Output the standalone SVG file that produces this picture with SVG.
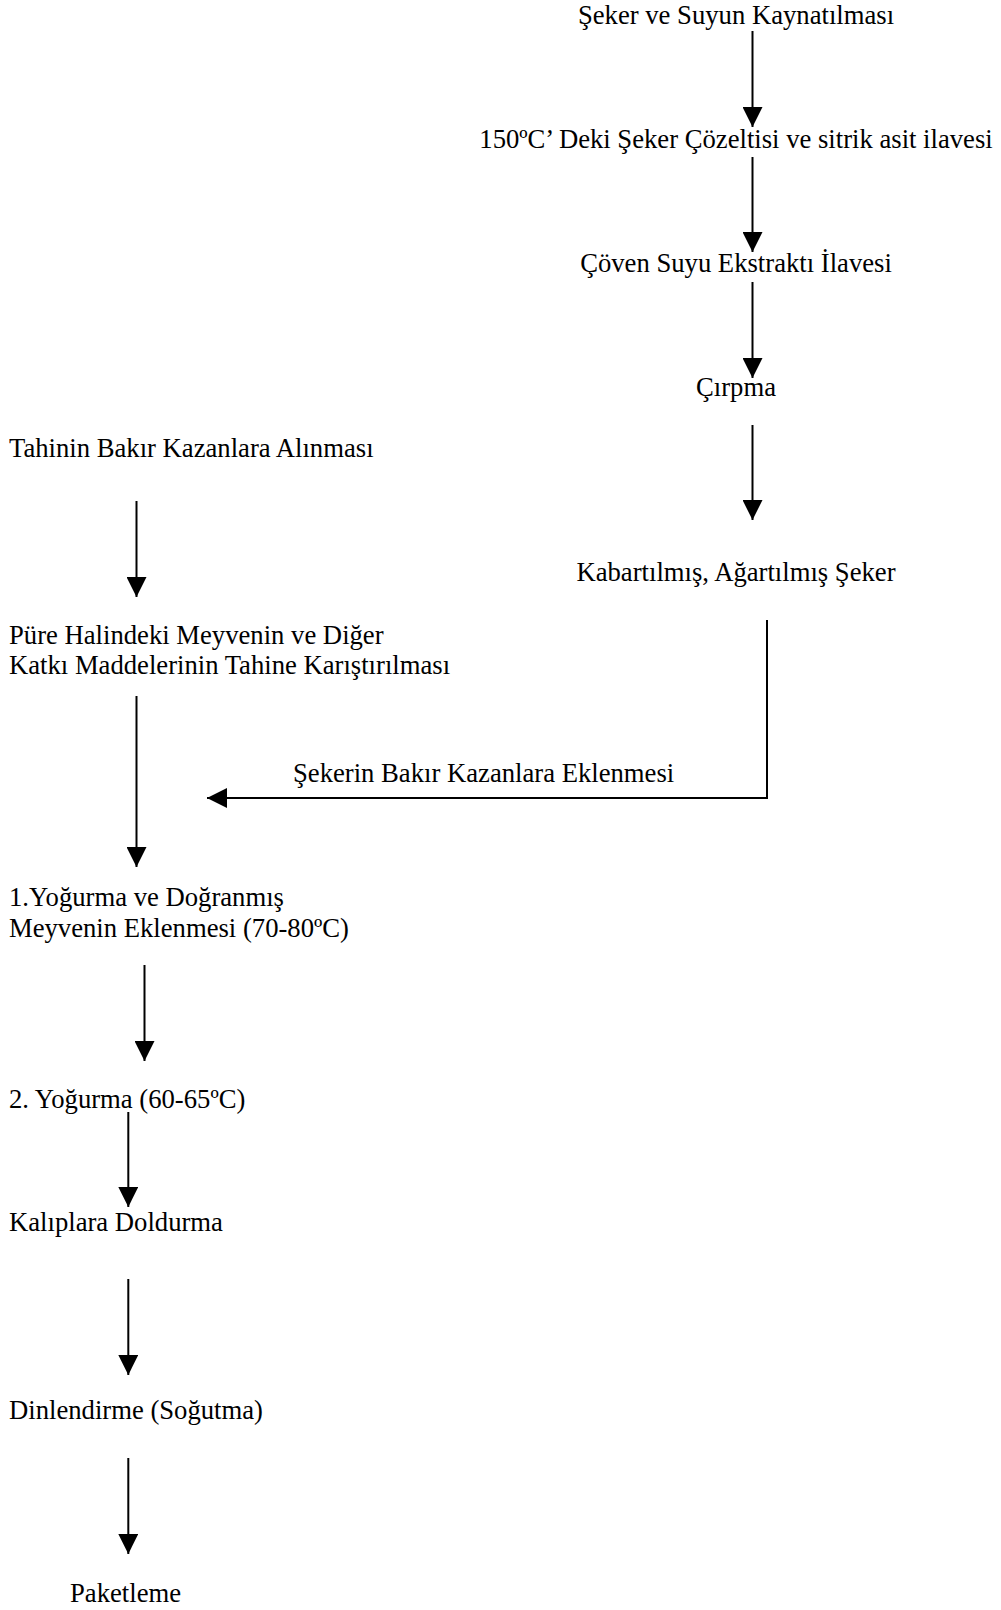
<svg xmlns="http://www.w3.org/2000/svg" width="1001" height="1610" viewBox="0 0 1001 1610">
<defs>
<style>
text{font-family:"Liberation Serif","Times New Roman",serif;font-size:26.67px;fill:#000}
.c{text-anchor:middle}
.ln{stroke:#000;stroke-width:2;fill:none}
</style>
<marker id="ah" viewBox="0 0 20 20" refX="20" refY="10" markerWidth="20" markerHeight="20" markerUnits="userSpaceOnUse" orient="auto">
<path d="M0,0 L20,10 L0,20 z" fill="#000"/>
</marker>
</defs>
<rect width="1001" height="1610" fill="#fff"/>
<g id="n1"><text class="c" x="736" y="24">Şeker ve Suyun Kaynatılması</text></g>
<g id="n2"><text class="c" x="736" y="148">150ºC’ Deki Şeker Çözeltisi ve sitrik asit ilavesi</text></g>
<g id="n3"><text class="c" x="736" y="272">Çöven Suyu Ekstraktı İlavesi</text></g>
<g id="n4"><text class="c" x="736" y="396">Çırpma</text></g>
<g id="n5"><text class="c" x="736" y="581">Kabartılmış, Ağartılmış Şeker</text></g>
<g id="n6"><text x="9" y="457">Tahinin Bakır Kazanlara Alınması</text></g>
<g id="n7"><text x="9" y="644">Püre Halindeki Meyvenin ve Diğer</text><text x="9" y="674">Katkı Maddelerinin Tahine Karıştırılması</text></g>
<g id="n8"><text x="9" y="906">1.Yoğurma ve Doğranmış</text><text x="9" y="937">Meyvenin Eklenmesi (70-80ºC)</text></g>
<g id="n9"><text x="9" y="1108">2. Yoğurma (60-65ºC)</text></g>
<g id="n10"><text x="9" y="1231">Kalıplara Doldurma</text></g>
<g id="n11"><text x="9" y="1419">Dinlendirme (Soğutma)</text></g>
<g id="n12"><text x="70" y="1602">Paketleme</text></g>
<g id="connectors">
<line class="ln" x1="752.5" y1="31" x2="752.5" y2="127" marker-end="url(#ah)"/>
<line class="ln" x1="752.5" y1="157" x2="752.5" y2="252" marker-end="url(#ah)"/>
<line class="ln" x1="752.5" y1="282" x2="752.5" y2="378" marker-end="url(#ah)"/>
<line class="ln" x1="752.5" y1="425" x2="752.5" y2="520" marker-end="url(#ah)"/>
<polyline class="ln" points="767,620 767,798 207,798" marker-end="url(#ah)"/>
<text x="293" y="782">Şekerin Bakır Kazanlara Eklenmesi</text>
<line class="ln" x1="136.5" y1="501" x2="136.5" y2="597" marker-end="url(#ah)"/>
<line class="ln" x1="136.5" y1="696" x2="136.5" y2="867" marker-end="url(#ah)"/>
<line class="ln" x1="144.5" y1="965" x2="144.5" y2="1061" marker-end="url(#ah)"/>
<line class="ln" x1="128.3" y1="1112" x2="128.3" y2="1207" marker-end="url(#ah)"/>
<line class="ln" x1="128.3" y1="1279" x2="128.3" y2="1375" marker-end="url(#ah)"/>
<line class="ln" x1="128.3" y1="1458" x2="128.3" y2="1554" marker-end="url(#ah)"/>
</g>
</svg>
